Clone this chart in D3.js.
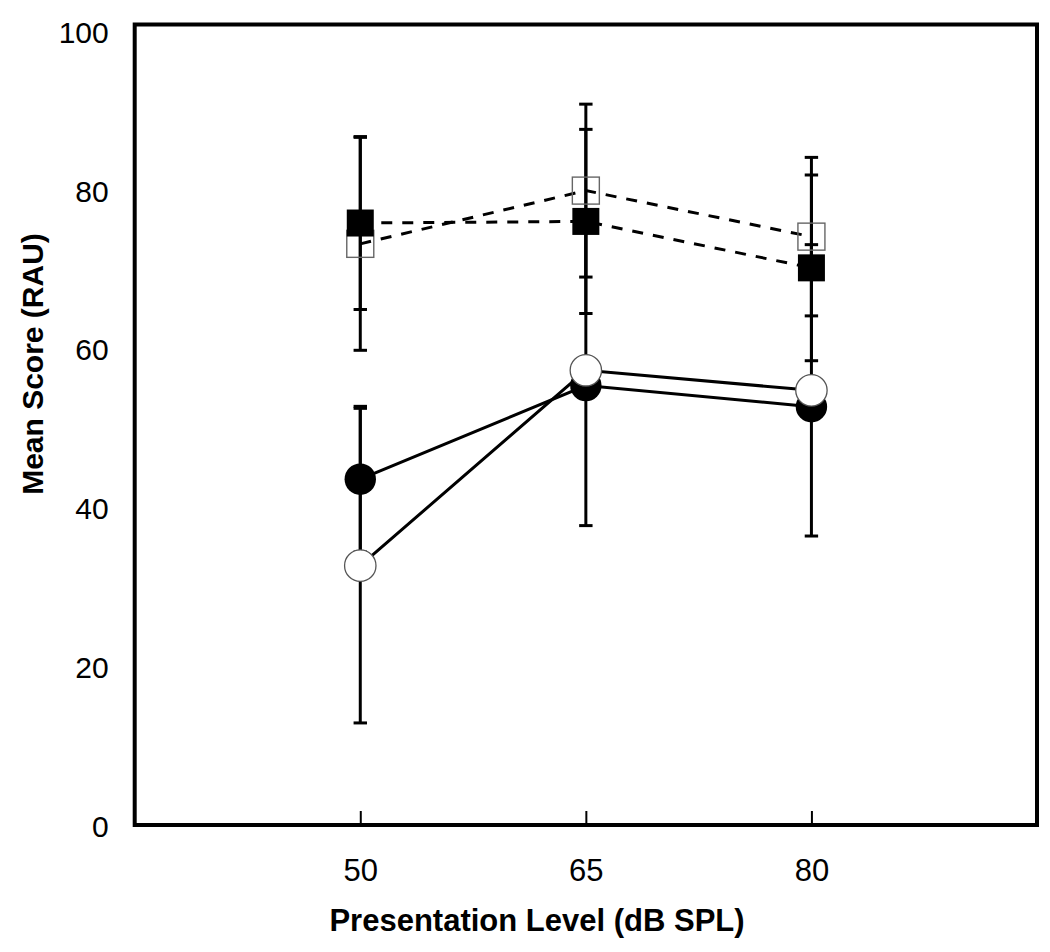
<!DOCTYPE html>
<html>
<head>
<meta charset="utf-8">
<script src="https://cdn.jsdelivr.net/npm/d3@7"></script>
<style>
  body { margin: 0; background: #fff; }
  svg text { font-family: Arial, "Liberation Sans", sans-serif; }
</style>
</head>
<body>
<div id="chart"></div>
<script>
// ---------------------- data ----------------------
var levels = [50, 65, 80];

var filledSquare    = [75.2, 75.4, 69.6];
var filledSquareErr = [10.8, 11.5, 11.6];
var openSquare      = [72.6, 79.25, 73.5];
var openSquareErr   = [13.3, 10.8, 9.9];

var filledCircle    = [43.2, 54.9, 52.25];
var filledCircleErr = [9.1, 1.5, 1.5];
var openCircle      = [32.4, 56.8, 54.3];
var openCircleErr   = [19.65, 19.4, 18.2];

var yTicks = [0, 20, 40, 60, 80, 100];

// ---------------------- svg + scales ----------------------
var svg = d3.select("#chart")
     .append("svg")
     .attr("width", 1050)
     .attr("height", 952);

var plotL = 134.7, plotR = 1037, plotT = 24.5, plotB = 825;

var x = d3.scaleLinear().domain([35, 95]).range([plotL, plotR]);
var y = d3.scaleLinear().domain([0, 100]).range([plotB, plotT]);
// tick labels sit a few px lower than the data scale in the original
var yLab = d3.scaleLinear().domain([0, 100]).range([plotB + 2, plotT + 8]);

// ---------------------- axes ----------------------
var xAxis = svg.append("g")
     .attr("transform", "translate(0," + plotB + ")")
     .call(d3.axisBottom(x).tickValues(levels).tickSize(-14).tickPadding(34));
xAxis.select(".domain").remove();
xAxis.selectAll("line").attr("stroke", "#000").attr("stroke-width", 2);
xAxis.selectAll("text").style("font-size", "31px").attr("fill", "#000");

var yAxis = svg.append("g")
     .attr("transform", "translate(" + plotL + ",0)")
     .call(d3.axisLeft(yLab).tickValues(yTicks).tickSize(0).tickPadding(26));
yAxis.select(".domain").remove();
yAxis.selectAll("text").style("font-size", "30px").attr("fill", "#000");

// frame
svg.append("rect")
     .attr("x", plotL)
     .attr("y", plotT)
     .attr("width", plotR - plotL)
     .attr("height", plotB - plotT)
     .attr("fill", "none")
     .attr("stroke", "#000")
     .attr("stroke-width", 4);

// axis titles
svg.append("text")
     .text("Presentation Level (dB SPL)")
     .attr("x", 537)
     .attr("y", 931)
     .attr("text-anchor", "middle")
     .style("font-size", "31px")
     .style("font-weight", "bold");

svg.append("text")
     .text("Mean Score (RAU)")
     .attr("transform", "translate(43,364) rotate(-90)")
     .attr("text-anchor", "middle")
     .style("font-size", "30px")
     .style("font-weight", "bold");

// ---------------------- series ----------------------
function pts(vals, errs) {
  return levels.map(function(l, i) { return { l: l, v: vals[i], e: errs[i] }; });
}
var series = [
  { key: "openSq",   data: pts(openSquare, openSquareErr),     dash: "11,10" },
  { key: "filledSq", data: pts(filledSquare, filledSquareErr), dash: "11,10" },
  { key: "filledCi", data: pts(filledCircle, filledCircleErr), dash: null },
  { key: "openCi",   data: pts(openCircle, openCircleErr),     dash: null }
];

// error bars
var capW = 6.7;
series.forEach(function(s) {
  var g = svg.append("g").attr("stroke", "#000").attr("stroke-width", 3);
  g.selectAll("line.bar").data(s.data).enter().append("line")
     .attr("x1", function(d) { return x(d.l); })
     .attr("x2", function(d) { return x(d.l); })
     .attr("y1", function(d) { return y(d.v + d.e); })
     .attr("y2", function(d) { return y(d.v - d.e); });
  g.selectAll("line.capHi").data(s.data).enter().append("line")
     .attr("x1", function(d) { return x(d.l) - capW; })
     .attr("x2", function(d) { return x(d.l) + capW; })
     .attr("y1", function(d) { return y(d.v + d.e); })
     .attr("y2", function(d) { return y(d.v + d.e); });
  g.selectAll("line.capLo").data(s.data).enter().append("line")
     .attr("x1", function(d) { return x(d.l) - capW; })
     .attr("x2", function(d) { return x(d.l) + capW; })
     .attr("y1", function(d) { return y(d.v - d.e); })
     .attr("y2", function(d) { return y(d.v - d.e); });
});

// connecting lines
var line = d3.line()
     .x(function(d) { return x(d.l); })
     .y(function(d) { return y(d.v); });

series.forEach(function(s) {
  svg.append("path")
     .datum(s.data)
     .attr("d", line)
     .attr("fill", "none")
     .attr("stroke", "#000")
     .attr("stroke-width", 3)
     .attr("stroke-dasharray", s.dash);
});

// markers
var sq = 27, r = 15.7;

svg.selectAll("rect.openSq").data(series[0].data).enter().append("rect")
     .attr("x", function(d) { return x(d.l) - sq / 2; })
     .attr("y", function(d) { return y(d.v) - sq / 2; })
     .attr("width", sq).attr("height", sq)
     .attr("fill", "none")
     .attr("stroke", "#666")
     .attr("stroke-width", 1.4);

svg.selectAll("rect.filledSq").data(series[1].data).enter().append("rect")
     .attr("x", function(d) { return x(d.l) - sq / 2; })
     .attr("y", function(d) { return y(d.v) - sq / 2; })
     .attr("width", sq).attr("height", sq)
     .attr("fill", "#000");

svg.selectAll("circle.filledCi").data(series[2].data).enter().append("circle")
     .attr("cx", function(d) { return x(d.l); })
     .attr("cy", function(d) { return y(d.v); })
     .attr("r", r)
     .attr("fill", "#000");

svg.selectAll("circle.openCi").data(series[3].data).enter().append("circle")
     .attr("cx", function(d) { return x(d.l); })
     .attr("cy", function(d) { return y(d.v); })
     .attr("r", r)
     .attr("fill", "#fff")
     .attr("stroke", "#555")
     .attr("stroke-width", 1.3);
</script>
</body>
</html>
